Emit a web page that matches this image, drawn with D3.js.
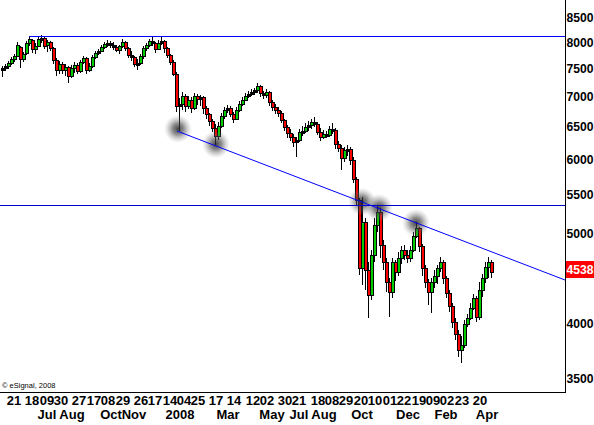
<!DOCTYPE html>
<html><head><meta charset="utf-8">
<script src="https://cdn.jsdelivr.net/npm/d3@7"></script>
<style>
body{margin:0;background:#fff}
svg{display:block}
text{font-family:Arial,"Liberation Sans",sans-serif}
</style>
</head><body>
<svg id="chart" width="594" height="425"></svg>
<script>
// ---- DATA (3-trading-day candles, May 2007 - Apr 2009) ----
const open = [
7467,7504,7541,7596,7671,7728,7901,7671,7785,7979,
8038,7862,7921,8058,8078,7940,7999,7882,7652,7467,
7578,7467,7522,7357,7504,7559,7449,7615,7690,7467,
7541,7709,7785,7824,7901,7960,7979,7940,7901,7843,
7921,7999,7882,7747,7709,7578,7596,7728,7882,7940,
8018,7979,7862,7979,8018,7882,7747,7615,7394,6834,
6868,7004,6834,6935,6801,7004,6952,6987,6801,6701,
6586,6474,6347,6506,6668,6767,6801,6701,6618,6767,
6868,6935,7004,7038,7073,7108,7178,7056,7021,7073,
6901,6817,6767,6717,6602,6490,6395,6332,6254,6285,
6410,6426,6490,6522,6570,6538,6410,6332,6379,6363,
6458,6442,6224,6163,6013,6133,6148,5984,5710,5423,
4588,5137,4565,4293,4737,5099,5265,4855,4656,4432,
4325,4656,4543,4702,4795,4737,4702,4795,4963,5062,
4843,4588,4432,4325,4432,4498,4588,4656,4476,4314,
4178,4017,3900,3750,3796,3997,4057,4157,4261,4067,
4346,4476,4599,4656];
const high = [
7541,7578,7633,7709,7766,7999,7921,7805,8018,8118,
8058,7979,8098,8138,8118,8038,8018,7901,7690,7633,
7615,7578,7541,7559,7615,7596,7652,7728,7709,7596,
7747,7824,7862,7940,7999,8038,8018,7999,7940,7940,
8058,8018,7901,7824,7728,7671,7766,7921,7979,8058,
8098,7999,8038,8098,8038,7901,7766,7652,7430,6969,
7073,7038,7004,6987,7056,7038,7021,7004,6834,6717,
6618,6538,6570,6717,6817,6851,6834,6734,6817,6918,
6987,7056,7091,7126,7143,7232,7196,7091,7126,7091,
6935,6868,6817,6750,6618,6522,6458,6379,6332,6458,
6506,6554,6586,6618,6651,6570,6474,6442,6426,6506,
6554,6474,6270,6209,6178,6209,6178,6028,5739,5449,
5463,5188,4656,4795,5188,5357,5318,4915,4702,4476,
4702,4679,4772,4843,4855,4795,4843,5012,5137,5074,
4867,4622,4465,4476,4565,4622,4714,4679,4498,4346,
4209,4057,3939,3881,4037,4097,4209,4304,4283,4432,
4520,4656,4714,4679];
const low = [
7339,7449,7485,7559,7615,7709,7504,7615,7747,7921,
7785,7766,7901,7979,7862,7805,7824,7578,7357,7394,
7394,7357,7232,7321,7412,7394,7412,7578,7394,7430,
7504,7671,7747,7805,7862,7901,7882,7843,7805,7766,
7882,7824,7690,7633,7522,7467,7559,7671,7824,7901,
7921,7785,7843,7940,7785,7690,7559,7357,6734,6426,
6767,6734,6784,6717,6767,6851,6834,6701,6618,6506,
6410,6209,6285,6474,6618,6717,6651,6554,6602,6734,
6834,6918,6969,7004,7021,7056,6987,6952,6969,6834,
6750,6701,6651,6554,6426,6316,6270,6178,6028,6254,
6347,6395,6426,6458,6490,6363,6270,6301,6316,6332,
6379,6148,6103,5838,5955,6043,5910,5655,5344,4509,
4400,4346,4057,4240,4656,5012,4702,4565,4325,4067,
4261,4443,4498,4633,4679,4644,4656,4772,4939,4772,
4498,4368,4188,4107,4368,4411,4543,4411,4261,4117,
3958,3843,3686,3632,3768,3968,4037,4137,4017,4037,
4272,4421,4476,4476];
const close = [
7504,7541,7596,7671,7728,7940,7671,7766,7979,8058,
7862,7921,8058,8078,7921,7999,7882,7652,7467,7578,
7467,7522,7357,7504,7559,7449,7615,7690,7467,7541,
7709,7785,7824,7901,7960,7979,7940,7901,7843,7921,
7999,7882,7747,7709,7578,7596,7728,7882,7940,8018,
7979,7862,7979,8018,7882,7747,7615,7394,6834,6868,
7004,6834,6935,6801,7004,6952,6987,6801,6701,6586,
6474,6347,6506,6668,6767,6801,6701,6618,6767,6868,
6935,7004,7038,7073,7108,7178,7056,7021,7073,6901,
6817,6767,6717,6602,6490,6395,6332,6254,6285,6410,
6426,6490,6522,6570,6538,6410,6332,6379,6363,6458,
6442,6224,6163,6013,6133,6148,5984,5710,5423,4588,
5137,4565,4293,4737,5099,5265,4855,4656,4432,4325,
4656,4543,4702,4795,4737,4702,4795,4963,5062,4843,
4588,4432,4325,4432,4498,4588,4656,4476,4314,4178,
4017,3900,3750,3796,3997,4057,4157,4261,4067,4346,
4476,4599,4656,4538];

const priceTicks = [3500,4000,5000,5500,6000,6500,7000,7500,8000,8500];
const lastPrice = 4538;

// x-axis labels (day of month / month), located by trading-day index
const dayLabels = ["21","18","09","30","27","17","08","29","26","17","14","04","25","17","14","12","02","30","21","18","08","29","20","10","01","22","19","09","02","23","20"];
const dayIndex  = [14,32,47,61,79,94,108,123,141,155,170,184,198,216,234,253,267,285,299,318,332,346,361,375,390,404,419,433,447,462,480];
const monthLabels = ["Jul","Aug","Oct","Nov","2008","Mar","May","Jul","Aug","Oct","Dec","Feb","Apr"];
const monthIndex  = [47,72,111,134,180,228,272,299,324,362,408,446,487];

// drawn studies: horizontal levels, trend line, pivot markers
const resistanceLevel = 8118, resistanceStart = 29;
const supportLevel = 5357;
const trendStart = [177, 6426], trendEnd = [565, 4454];
const pivotDay   = [178, 216, 362, 379, 416];
const pivotPrice = [6460, 6220, 5400, 5320, 5125];

// ---- CHART ----
const W = 594, H = 425, plotRight = 565, plotBottom = 392;
const svg = d3.select("#chart");
svg.append("rect").attr("width", W).attr("height", H).attr("fill", "#fff");

const x = d3.scaleLinear().domain([0, 565]).range([0, plotRight]);
const y = d3.scaleLog().domain([3500, 8500]).range([378, 17.3]);
const barDay = close.map((_, i) => 2 + 3 * i);

const defs = svg.append("defs");
const g = defs.append("radialGradient").attr("id", "blob");
g.append("stop").attr("offset", "0%").attr("stop-color", "#222").attr("stop-opacity", 0.85);
g.append("stop").attr("offset", "40%").attr("stop-color", "#444").attr("stop-opacity", 0.6);
g.append("stop").attr("offset", "75%").attr("stop-color", "#777").attr("stop-opacity", 0.25);
g.append("stop").attr("offset", "100%").attr("stop-color", "#999").attr("stop-opacity", 0);

// candles
const candles = svg.append("g").attr("shape-rendering", "crispEdges");
close.forEach((c, i) => {
  const cx = Math.round(x(barDay[i]));
  const o = open[i];
  const yh = Math.round(y(high[i])), yl = Math.round(y(low[i]));
  const yt = Math.round(y(Math.max(o, c))), yb = Math.round(y(Math.min(o, c)));
  candles.append("rect").attr("x", cx).attr("y", yh).attr("width", 1).attr("height", Math.max(1, yl - yh)).attr("fill", "#000");
  const bh = Math.max(2, yb - yt);
  candles.append("rect").attr("x", cx - 1).attr("y", yt).attr("width", 4).attr("height", bh + 1).attr("fill", "#000");
  if (bh >= 3) {
    candles.append("rect").attr("x", cx).attr("y", yt + 1).attr("width", 2).attr("height", bh - 1)
      .attr("fill", c >= o ? "#00cc00" : "#ff0000");
  }
});

// pivot blobs
svg.append("g").selectAll("circle").data(pivotDay).join("circle")
  .attr("cx", (d) => x(d)).attr("cy", (d, i) => y(pivotPrice[i])).attr("r", 14)
  .attr("fill", "url(#blob)");

// lines
svg.append("line").attr("x1", x(resistanceStart)).attr("x2", plotRight)
  .attr("y1", Math.round(y(resistanceLevel)) + 0.5).attr("y2", Math.round(y(resistanceLevel)) + 0.5)
  .attr("stroke", "#0000ff").attr("stroke-width", 1);
svg.append("line").attr("x1", 0).attr("x2", plotRight)
  .attr("y1", Math.round(y(supportLevel)) + 0.5).attr("y2", Math.round(y(supportLevel)) + 0.5)
  .attr("stroke", "#0000cc").attr("stroke-width", 1);
svg.append("line").attr("x1", x(trendStart[0])).attr("y1", y(trendStart[1]))
  .attr("x2", x(trendEnd[0])).attr("y2", y(trendEnd[1]))
  .attr("stroke", "#0000ff").attr("stroke-width", 1);

// axes frame
svg.append("line").attr("x1", plotRight + 0.5).attr("x2", plotRight + 0.5).attr("y1", 0).attr("y2", plotBottom + 1)
  .attr("stroke", "#000");
svg.append("line").attr("x1", 0).attr("x2", plotRight + 1).attr("y1", plotBottom + 0.5).attr("y2", plotBottom + 0.5)
  .attr("stroke", "#000");

// y labels
svg.append("g").selectAll("text").data(priceTicks).join("text")
  .attr("x", plotRight + 1.5).attr("y", (d) => y(d)).attr("dy", "0.36em")
  .attr("font-size", 13).attr("font-weight", "bold").attr("fill", "#000")
  .attr("textLength", 27).attr("lengthAdjust", "spacingAndGlyphs")
  .text((d) => d);

// last price box
const ly = y(lastPrice);
svg.append("rect").attr("x", plotRight + 1).attr("y", Math.round(ly) - 11).attr("width", W - plotRight - 1).attr("height", 17)
  .attr("fill", "#ff0000");
svg.append("text").attr("x", plotRight + 1.5).attr("y", Math.round(ly) - 2.5).attr("dy", "0.36em")
  .attr("font-size", 13).attr("font-weight", "bold").attr("fill", "#fff")
  .attr("textLength", 27).attr("lengthAdjust", "spacingAndGlyphs").text(lastPrice);

// x labels
svg.append("g").selectAll("text").data(dayLabels).join("text")
  .attr("x", (d, i) => x(dayIndex[i])).attr("y", 405).attr("text-anchor", "middle")
  .attr("font-size", 13).attr("font-weight", "bold").attr("fill", "#000").text((d) => d);
svg.append("g").selectAll("text").data(monthLabels).join("text")
  .attr("x", (d, i) => x(monthIndex[i])).attr("y", 419).attr("text-anchor", "middle")
  .attr("font-size", 13).attr("font-weight", "bold").attr("fill", "#000").text((d) => d);

// copyright
svg.append("text").attr("x", 2).attr("y", 388).attr("font-size", 7.5).attr("fill", "#000").text("\u00a9 eSignal, 2008");
</script>
</body></html>
